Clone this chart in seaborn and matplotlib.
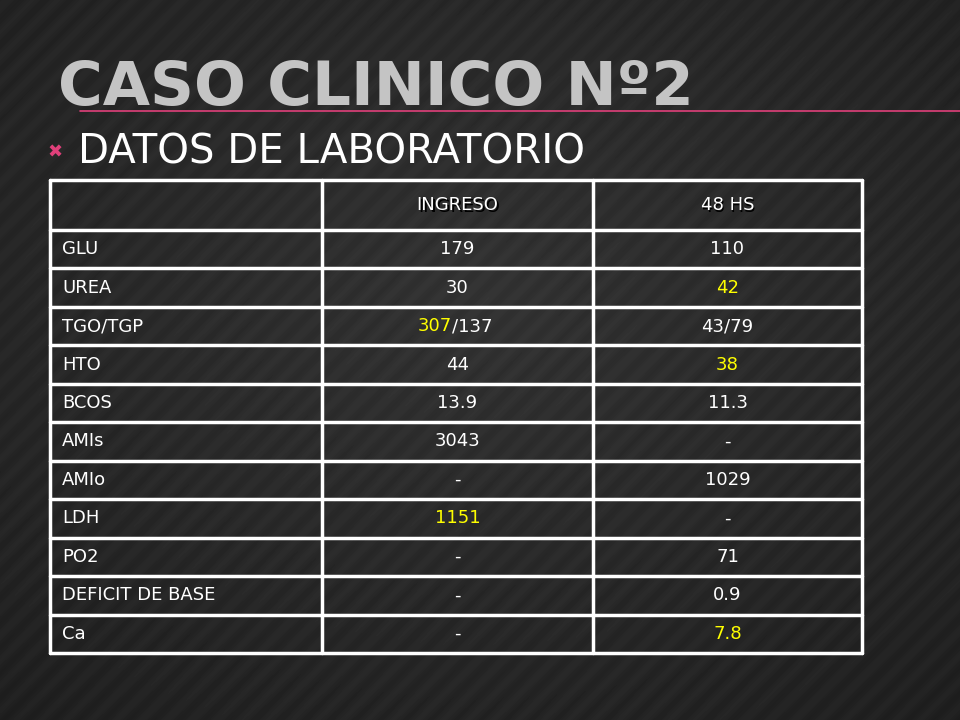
import numpy as np
import matplotlib.pyplot as plt
import seaborn as sns

sns.set_theme(style="dark", rc={"font.family": "Liberation Sans Narrow"})

title = "CASO CLINICO Nº2"
subtitle = "DATOS DE LABORATORIO"
headers = ["", "INGRESO", "48 HS"]
labels = ["GLU", "UREA", "TGO/TGP", "HTO", "BCOS", "AMIs", "AMIo", "LDH", "PO2",
          "DEFICIT DE BASE", "Ca"]
ingreso = ["179", "30", "307/137", "44", "13.9", "3043", "-", "1151", "-", "-", "-"]
hs48 = ["110", "42", "43/79", "38", "11.3", "-", "1029", "-", "71", "0.9", "7.8"]
# valores resaltados en amarillo (fila, columna)
resaltados = {(1, 2), (3, 2), (7, 1), (10, 2)}

fig = plt.figure(figsize=(9.6, 7.2), dpi=100)
ax = fig.add_axes([0, 0, 1, 1])
ax.set_xlim(0, 960)
ax.set_ylim(720, 0)
ax.axis("off")

# fondo oscuro con rayas diagonales
yy, xx = np.mgrid[0:720, 0:960]
r = np.hypot((xx - 480) / 960, (yy - 300) / 720)
bg = 0.2 - 0.1 * r + 0.012 * np.sin((xx + yy) / 4.0)
ax.imshow(bg, cmap="gray", vmin=0, vmax=1, extent=(0, 960, 720, 0), zorder=0)

# título
ax.text(58, 105, title.upper(), color="#c4c4c4", fontsize=44, fontweight="bold",
        va="baseline")
ax.plot([80, 960], [111, 111], color="#e0407a", lw=1.2)

ax.text(47, 153, "✖", color="#e0407a", fontsize=13, va="center",
        fontfamily="DejaVu Sans")
ax.text(78, 152, subtitle, color="white", fontsize=29, va="center")

# tabla
xs = [50, 322, 593, 862]
ys = [180, 230] + [230 + 38.45 * (i + 1) for i in range(len(labels))]
for x in xs:
    ax.plot([x, x], [ys[0], ys[-1]], color="white", lw=2.5)
for y in ys:
    ax.plot([xs[0], xs[-1]], [y, y], color="white", lw=2.5)

fs = 13
for j, h in enumerate(headers):
    cx = (xs[j] + xs[j + 1]) / 2
    ax.text(cx + 1.5, 205 + 1.5, h, color="black", fontsize=fs, ha="center", va="center")
    ax.text(cx, 205, h, color="white", fontsize=fs, ha="center", va="center")

for i, lab in enumerate(labels):
    cy = (ys[i + 1] + ys[i + 2]) / 2
    ax.text(xs[0] + 12, cy, lab, color="white", fontsize=fs, va="center")
    for j, val in ((1, ingreso[i]), (2, hs48[i])):
        cx = (xs[j] + xs[j + 1]) / 2
        if (i, j) in resaltados:
            ax.text(cx, cy, val, color="#ffff00", fontsize=fs, ha="center", va="center")
        elif labels[i] == "TGO/TGP" and j == 1:
            a, b = val.split("/")
            ax.text(cx - 6, cy, a, color="#ffff00", fontsize=fs, ha="right", va="center")
            ax.text(cx - 6, cy, "/" + b, color="white", fontsize=fs, ha="left", va="center")
        else:
            ax.text(cx, cy, val, color="white", fontsize=fs, ha="center", va="center")

fig.savefig("out.png", dpi=100)
